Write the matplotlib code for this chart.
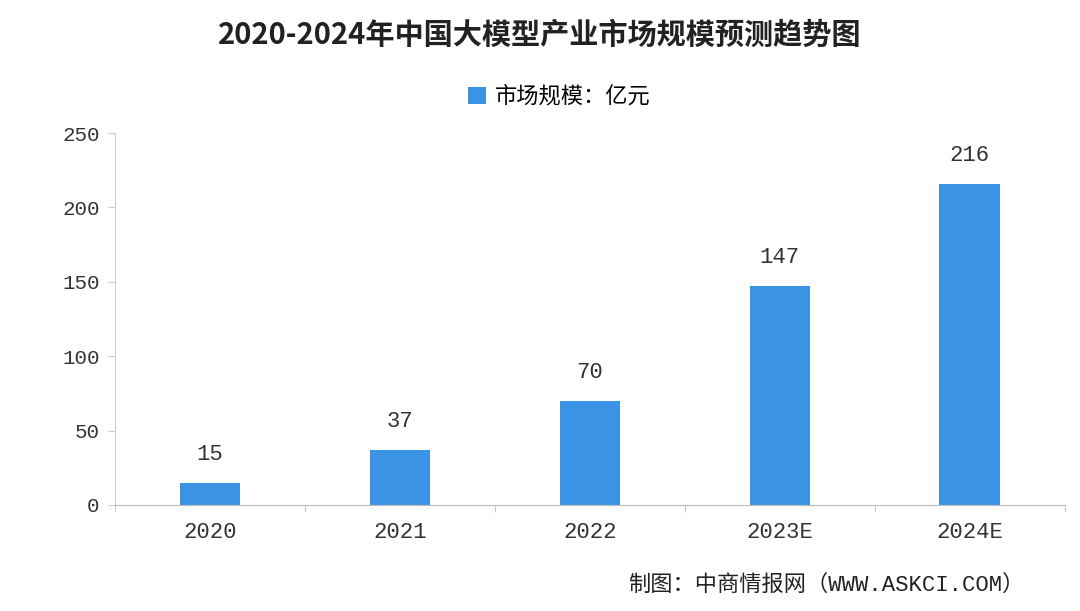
import matplotlib.pyplot as plt
import numpy as np

plt.rcParams['font.family'] = ['Noto Sans CJK SC', 'DejaVu Sans']

years = ["2020", "2021", "2022", "2023E", "2024E"]
market_size = [15, 37, 70, 147, 216]

title = "2020-2024年中国大模型产业市场规模预测趋势图"
legend_label = "市场规模：亿元"
source = "制图：中商情报网（WWW.ASKCI.COM）"

bar_color = "#3a93e4"
mono = ['Liberation Mono', 'Noto Sans CJK SC']

fig = plt.figure(figsize=(10.8, 6.11), dpi=100)
ax = fig.add_axes([0.1065, 0.1735, 0.8795, 0.6088])

x = np.arange(len(years))
bars = ax.bar(x, market_size, width=0.32, color=bar_color, label=legend_label)

for xi, v in zip(x, market_size):
    ax.text(xi, v + 12, str(v), ha="center", va="bottom", fontsize=16,
            family=mono, color="#333333")

ax.set_xlim(-0.5, len(years) - 0.5)
ax.set_ylim(0, 250)
ax.set_yticks(range(0, 251, 50))
ax.set_xticks(x)
ax.set_xticklabels(years, family=mono, fontsize=16, color="#333333")
ax.set_xticks(np.arange(-0.5, len(years)), minor=True)
ax.tick_params(axis="x", which="major", length=0, pad=12)
ax.tick_params(axis="x", which="minor", length=5, color="#bbbbbb")
ax.tick_params(axis="y", length=5, color="#cccccc", pad=6)
for lbl in ax.get_yticklabels():
    lbl.set_family(mono)
    lbl.set_fontsize(15)
    lbl.set_color("#333333")

ax.spines["top"].set_visible(False)
ax.spines["right"].set_visible(False)
ax.spines["left"].set_color("#cccccc")
ax.spines["bottom"].set_color("#bbbbbb")

fig.text(0.5, 0.943, title, ha="center", va="center", fontsize=21,
         fontweight="bold", color="#222222")
fig.legend(handles=[bars], labels=[legend_label], loc="center",
           bbox_to_anchor=(0.518, 0.842), frameon=False, fontsize=16,
           handlelength=0.8, handleheight=0.8, handletextpad=0.4)
fig.text(0.949, 0.042, source, ha="right", va="center", fontsize=16,
         family=mono, color="#222222")

fig.savefig("out.png", dpi=100, facecolor="white")
